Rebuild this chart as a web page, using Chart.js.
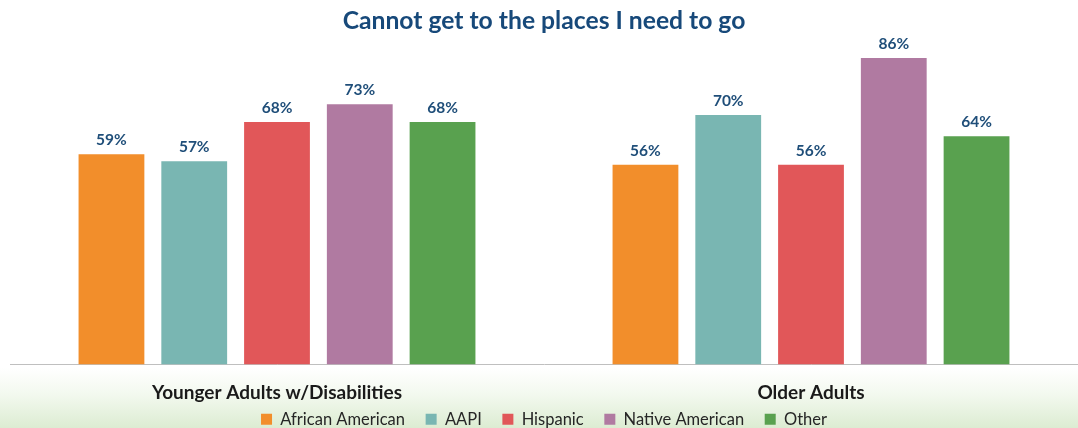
<!DOCTYPE html>
<html>
<head>
<meta charset="utf-8">
<script src="https://cdn.jsdelivr.net/npm/chart.js@4/dist/chart.umd.min.js"></script>
<style>
  html, body { margin: 0; padding: 0; }
  body {
    width: 1078px; height: 428px; overflow: hidden;
    background: linear-gradient(to bottom, #ffffff 0px, #ffffff 368px, #f3f9ef 394px, #dcecd2 428px);
  }
  .wrap { position: relative; width: 1078px; height: 428px; }
</style>
</head>
<body>
<div class="wrap"><canvas id="chart"></canvas></div>
<script>
const groups = ['Younger Adults w/Disabilities', 'Older Adults'];
const seriesNames = ['African American', 'AAPI', 'Hispanic', 'Native American', 'Other'];
const seriesColors = ['#F28E2B', '#79B6B2', '#E15759', '#B07AA1', '#59A14F'];
const africanAmerican = [0.59, 0.56];
const aapi = [0.57, 0.70];
const hispanic = [0.68, 0.56];
const nativeAmerican = [0.73, 0.86];
const other = [0.68, 0.64];

const seriesValues = [africanAmerican, aapi, hispanic, nativeAmerican, other];
const fontFamily = 'Lato, "Open Sans", sans-serif';

const datasets = seriesNames.map((name, i) => ({
    label: name,
    data: seriesValues[i],
    backgroundColor: seriesColors[i],
    borderWidth: 0,
    barPercentage: 0.795,
    categoryPercentage: 0.775
}));

// percentage labels above each bar
const valueLabels = {
    id: 'valueLabels',
    afterDatasetsDraw(chart) {
        const ctx = chart.ctx;
        ctx.save();
        ctx.font = 'bold 15.5px ' + fontFamily;
        ctx.fillStyle = '#1F4E79';
        ctx.textAlign = 'center';
        ctx.textBaseline = 'alphabetic';
        chart.data.datasets.forEach((ds, i) => {
            chart.getDatasetMeta(i).data.forEach((bar, j) => {
                ctx.fillText(Math.round(ds.data[j] * 100) + '%', bar.x, bar.y - 9);
            });
        });
        ctx.restore();
    }
};

const chart = new Chart(document.getElementById('chart').getContext('2d'), {
    type: 'bar',
    data: {
        labels: groups,
        datasets: datasets
    },
    options: {
        responsive: true,
        maintainAspectRatio: false,
        animation: false,
        layout: {
            padding: { left: 10, right: 0, top: 0, bottom: -9.5 }
        },
        scales: {
            x: {
                grid: { display: false, drawTicks: false },
                border: { display: true, color: '#BFBFBF', width: 1 },
                ticks: {
                    color: '#1A1A1A',
                    padding: 18.5,
                    font: { family: fontFamily, size: 19, weight: 'bold', lineHeight: 1 }
                },
                // fixed axis band so the legend tucks in under the group names
                afterFit(scale) {
                    scale.height = 46.5;
                }
            },
            y: {
                display: false,
                min: 0,
                max: 0.9
            }
        },
        plugins: {
            title: {
                display: true,
                text: 'Cannot get to the places I need to go',
                color: '#17497A',
                font: { family: fontFamily, size: 24.7, weight: 'bold' },
                padding: { top: 6, bottom: 8 }
            },
            legend: {
                display: true,
                position: 'bottom',
                labels: {
                    color: '#262626',
                    boxWidth: 11,
                    boxHeight: 11,
                    padding: 0,
                    font: { family: fontFamily, size: 16.5 },
                    // wider gap between legend entries than the vertical padding allows
                    generateLabels(chart) {
                        const items = Chart.defaults.plugins.legend.labels.generateLabels(chart);
                        items.forEach((item, i) => {
                            if (i < items.length - 1) item.text = item.text + '\u2003\u2002';
                        });
                        return items;
                    }
                }
            },
            tooltip: { enabled: false }
        }
    },
    plugins: [valueLabels]
});
</script>
</body>
</html>
